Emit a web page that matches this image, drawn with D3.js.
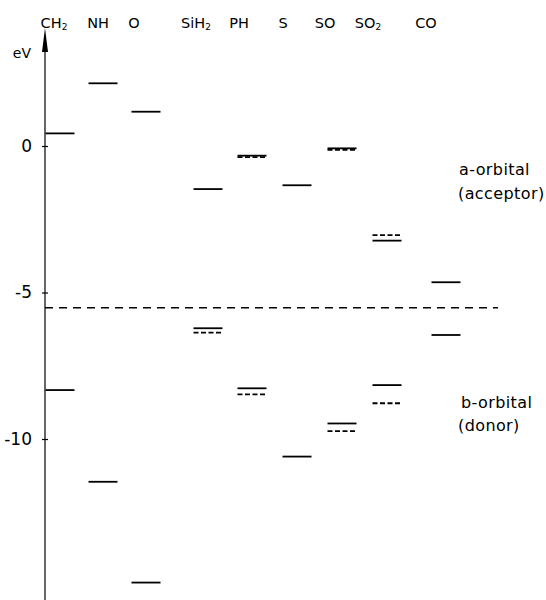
<!DOCTYPE html>
<html>
<head>
<meta charset="utf-8">
<script src="https://cdn.jsdelivr.net/npm/d3@7"></script>
<style>
  body { margin: 0; background: #fff; }
  svg { display: block; font-family: "DejaVu Sans", sans-serif; }
</style>
</head>
<body>
<div id="chart"></div>
<script>
// molecule fragments (label text, subscript)
const categories = ["CH2", "NH", "O", "SiH2", "PH", "S", "SO", "SO2", "CO"];
const labelMain = ["CH", "NH", "O", "SiH", "PH", "S", "SO", "SO", "CO"];
const labelSub = ["2", "", "", "2", "", "", "", "2", ""];

// a-orbital (acceptor) levels, eV
const acceptorSolid = [0.43, 2.14, 1.17, -1.47, -0.33, -1.34, -0.08, -3.23, -4.65];
const acceptorDashed = [null, null, null, null, -0.38, null, -0.13, -3.04, null];
// b-orbital (donor) levels, eV
const donorSolid = [-8.33, -11.46, -14.9, -6.22, -8.27, -10.6, -9.47, -8.16, -6.45];
const donorDashed = [null, null, null, -6.37, -8.48, null, -9.73, -8.78, null];

const separator = -5.52;
const yTicks = [0, -5, -10];

const width = 546, height = 600;
const axisX = 45;

const svg = d3.select("#chart").append("svg")
    .attr("width", width)
    .attr("height", height);

const y = d3.scaleLinear().domain([0, -10]).range([146, 439]);

// level line centres and label centres (irregular spacing in the original)
const x = d3.scaleOrdinal().domain(categories)
    .range([60, 103, 146, 208, 252, 297, 342, 387, 446]);
const xLabel = d3.scaleOrdinal().domain(categories)
    .range([54, 98, 134, 196, 239, 283, 325, 368, 426]);
const halfLen = 14.5;

// axis line + arrow
svg.append("line")
    .attr("x1", axisX).attr("x2", axisX)
    .attr("y1", 40).attr("y2", 600)
    .attr("stroke", "#000").attr("stroke-width", 1.2);
svg.append("path")
    .attr("d", `M${axisX},28 L${axisX - 3},52 L${axisX + 3},52 Z`)
    .attr("fill", "#000");
svg.append("text")
    .attr("x", 31).attr("y", 58)
    .attr("text-anchor", "end")
    .attr("font-size", 14)
    .text("eV");

// ticks
const yAxis = d3.axisLeft(y)
    .tickValues(yTicks)
    .tickSize(3)
    .tickPadding(10)
    .tickFormat(d => String(d));
const gAxis = svg.append("g")
    .attr("transform", `translate(${axisX},0)`)
    .call(yAxis);
gAxis.select(".domain").remove();
gAxis.selectAll(".tick line").attr("x2", -3).attr("x1", 3).attr("stroke-width", 1.2);
gAxis.selectAll(".tick text")
    .attr("font-family", "DejaVu Sans, sans-serif")
    .attr("font-size", 17)
    .attr("fill", "#000");

// separator dashed line
svg.append("line")
    .attr("x1", axisX).attr("x2", 498)
    .attr("y1", y(separator)).attr("y2", y(separator))
    .attr("stroke", "#000").attr("stroke-width", 1.5)
    .attr("stroke-dasharray", "8,6");

// category labels
const labels = svg.selectAll(".cat")
    .data(categories)
    .enter().append("text")
    .attr("class", "cat")
    .attr("x", d => xLabel(d))
    .attr("y", 28)
    .attr("text-anchor", "middle")
    .attr("font-size", 14.5);
labels.append("tspan").text((d, i) => labelMain[i]);
labels.append("tspan")
    .attr("font-size", 9)
    .attr("dy", 2)
    .text((d, i) => labelSub[i]);

// level lines
function drawLevels(values, dashed, cls) {
    const data = categories.map((c, i) => ({ cat: c, v: values[i] })).filter(d => d.v !== null);
    svg.selectAll("." + cls)
        .data(data)
        .enter().append("line")
        .attr("class", cls)
        .attr("x1", d => x(d.cat) - halfLen)
        .attr("x2", d => x(d.cat) + halfLen)
        .attr("y1", d => y(d.v))
        .attr("y2", d => y(d.v))
        .attr("stroke", "#000")
        .attr("stroke-width", 1.8)
        .attr("stroke-dasharray", dashed ? "5,2.5" : null);
}
drawLevels(acceptorSolid, false, "acc-solid");
drawLevels(acceptorDashed, true, "acc-dashed");
drawLevels(donorSolid, false, "don-solid");
drawLevels(donorDashed, true, "don-dashed");

// annotations
const notes = [
    { t: "a-orbital", x: 459, y: 175 },
    { t: "(acceptor)", x: 458, y: 199 },
    { t: "b-orbital", x: 461, y: 408 },
    { t: "(donor)", x: 458, y: 431 }
];
svg.selectAll(".note")
    .data(notes)
    .enter().append("text")
    .attr("class", "note")
    .attr("x", d => d.x)
    .attr("y", d => d.y)
    .attr("font-size", 16)
    .attr("letter-spacing", 0.4)
    .text(d => d.t);
</script>
</body>
</html>
